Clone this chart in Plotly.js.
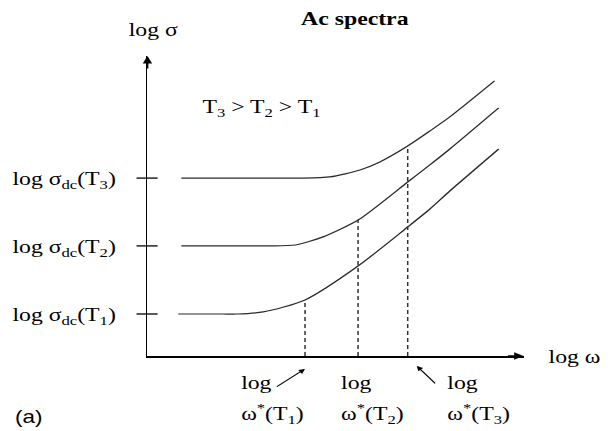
<!DOCTYPE html>
<html>
<head>
<meta charset="utf-8">
<script src="https://cdn.plot.ly/plotly-3.0.1.min.js"></script>
<style>
  html, body { margin: 0; padding: 0; background: #fff; overflow: hidden; }
  #wrap { width: 616px; height: 431px; overflow: hidden; }
  #chart { width: 493px; height: 431px; transform: scaleX(1.2495); transform-origin: 0 0; }
</style>
</head>
<body>
<div id="wrap"><div id="chart"></div></div>
<script>
// ---- data (arbitrary log units read from the schematic) ----
const temperatures = ['T1', 'T2', 'T3'];
const logOmegaT1 = [0.82, 2.0, 2.39, 3.08, 4.19, 5.60, 6.92, 7.51, 8.04, 9.34];
const logSigmaT1 = [1.40, 1.40, 1.40, 1.47, 1.87, 3.00, 4.30, 4.90, 5.50, 6.90];
const logOmegaT2 = [0.90, 2.5, 3.26, 3.93, 4.67, 5.60, 6.92, 7.51, 8.04, 9.34];
const logSigmaT2 = [3.67, 3.67, 3.67, 3.70, 3.97, 4.53, 5.80, 6.37, 6.90, 8.27];
const logOmegaT3 = [0.90, 3.0, 4.06, 4.85, 5.65, 6.18, 6.92, 7.51, 8.04, 9.23];
const logSigmaT3 = [5.93, 5.93, 5.93, 5.97, 6.20, 6.47, 7.00, 7.50, 7.97, 9.17];
const logSigmaDc = [1.40, 3.67, 5.93];
const logOmegaStar = [4.19, 5.60, 6.92];
const logSigmaAtOmegaStar = [1.87, 4.53, 7.00];
const yTickLabels = ['log σ<sub>dc</sub>(T<sub>1</sub>)', 'log σ<sub>dc</sub>(T<sub>2</sub>)', 'log σ<sub>dc</sub>(T<sub>3</sub>)'];
const omegaStarLabels = ['ω<sup>*</sup>(T<sub>1</sub>)', 'ω<sup>*</sup>(T<sub>2</sub>)', 'ω<sup>*</sup>(T<sub>3</sub>)'];

const SERIF = 'Liberation Serif, Times New Roman, serif';
const curveColor = '#2a2a2a';

const curves = [[logOmegaT1, logSigmaT1], [logOmegaT2, logSigmaT2], [logOmegaT3, logSigmaT3]];
const traces = curves.map((c, i) => ({
  x: c[0], y: c[1], mode: 'lines', type: 'scatter', name: temperatures[i],
  line: { color: curveColor, width: 1.2, shape: 'spline', smoothing: 0.7 },
  hoverinfo: 'skip', showlegend: false
}));
logOmegaStar.forEach((w, i) => {
  traces.push({
    x: [w, w], y: [0, logSigmaAtOmegaStar[i]], mode: 'lines', type: 'scatter',
    line: { color: '#333', width: 1.2, dash: '4px,3px' }, hoverinfo: 'skip', showlegend: false
  });
});

// label placement for the omega* captions (left edges, paper coords)
const captionLeft = [0.241, 0.507, 0.790];
const annotations = [
  { xref: 'paper', yref: 'paper', x: 0.0146, y: 1.087, text: 'log σ', showarrow: false,
    xanchor: 'center', yanchor: 'middle', font: { family: SERIF, size: 19, color: '#000' } },
  { xref: 'paper', yref: 'paper', x: 0.304, y: 0.827, text: 'T<sub>3</sub> > T<sub>2</sub> > T<sub>1</sub>', showarrow: false,
    xanchor: 'center', yanchor: 'middle', font: { family: SERIF, size: 19, color: '#000' } },
  { xref: 'paper', yref: 'paper', x: 1.135, y: 0.0, text: 'log ω', showarrow: false,
    xanchor: 'center', yanchor: 'middle', font: { family: SERIF, size: 19, color: '#000' } },
  { xref: 'paper', yref: 'paper', x: -0.314, y: -0.203, text: '(a)', showarrow: false,
    xanchor: 'center', yanchor: 'middle', font: { family: 'Liberation Sans, Arial, sans-serif', size: 18, color: '#000' } },
  // axis arrowheads
  { xref: 'paper', yref: 'paper', x: 1, y: 0, ax: -14, ay: 0, text: '', showarrow: true,
    arrowhead: 2, arrowsize: 1, arrowwidth: 1.5, arrowcolor: '#000', standoff: 0 },
  { xref: 'paper', yref: 'paper', x: 0, y: 1, ax: 0, ay: 14, text: '', showarrow: true,
    arrowhead: 2, arrowsize: 1, arrowwidth: 1.5, arrowcolor: '#000', standoff: 0 },
  // pointer arrows to omega* (T1) and (T3)
  { xref: 'paper', yref: 'paper', x: 0.419, y: -0.043, ax: -24, ay: 19, text: '', showarrow: true,
    arrowhead: 2, arrowsize: 1, arrowwidth: 1, arrowcolor: '#000', standoff: 0 },
  { xref: 'paper', yref: 'paper', x: 0.716, y: -0.033, ax: 16, ay: 19, text: '', showarrow: true,
    arrowhead: 2, arrowsize: 1, arrowwidth: 1, arrowcolor: '#000', standoff: 0 }
];
omegaStarLabels.forEach((lab, i) => {
  annotations.push({ xref: 'paper', yref: 'paper', x: captionLeft[i], y: -0.087, text: 'log', showarrow: false,
    xanchor: 'left', yanchor: 'middle', font: { family: SERIF, size: 19, color: '#000' } });
  annotations.push({ xref: 'paper', yref: 'paper', x: captionLeft[i], y: -0.193, text: lab, showarrow: false,
    xanchor: 'left', yanchor: 'middle', font: { family: SERIF, size: 19, color: '#000' } });
});

// cross-shaped ticks on the y axis
const shapes = logSigmaDc.map(v => ({
  type: 'line', xref: 'paper', yref: 'y', x0: -0.029, x1: 0.027, y0: v, y1: v,
  line: { color: '#000', width: 1.3 }
}));

const layout = {
  width: 493, height: 431,
  margin: { l: 117.65, r: 73.63, t: 56, b: 75, pad: 0 },
  paper_bgcolor: '#fff', plot_bgcolor: '#fff',
  title: { text: '<b>Ac spectra</b>', xref: 'container', yref: 'container', x: 0.576, y: 0.958,
    xanchor: 'center', yanchor: 'middle', font: { family: SERIF, size: 19, color: '#000' } },
  xaxis: { range: [0, 10], showgrid: false, zeroline: false, showline: true, linecolor: '#000', linewidth: 1.5,
    ticks: '', showticklabels: false, fixedrange: true },
  yaxis: { range: [0, 10], showgrid: false, zeroline: false, showline: true, linecolor: '#000', linewidth: 1.5,
    ticks: '', tickvals: logSigmaDc, ticktext: yTickLabels, ticklabelstandoff: 20,
    tickfont: { family: SERIF, size: 19, color: '#000' }, fixedrange: true },
  showlegend: false,
  shapes: shapes,
  annotations: annotations
};

Plotly.newPlot('chart', traces, layout, { staticPlot: true, displayModeBar: false });
</script>
</body>
</html>
